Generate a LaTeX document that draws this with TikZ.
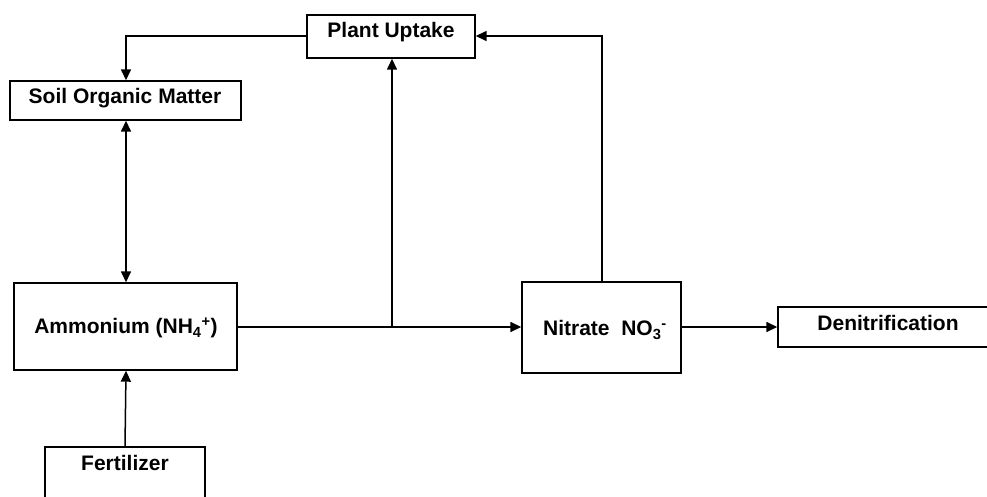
\documentclass[tikz,border=0pt]{standalone}
\usepackage{fontspec}
\setmainfont{Liberation Sans}
\usetikzlibrary{arrows.meta}
\begin{document}
\begin{tikzpicture}[x=1pt,y=-1pt,
  box/.style={draw,line width=1.4pt,inner sep=0pt},
  lbl/.style={inner sep=0pt,font=\fontsize{21}{25}\selectfont\bfseries,anchor=center},
  conn/.style={line width=1.5pt},
  arr/.style={conn,-{Triangle[length=11pt,width=10pt]}},
  darr/.style={conn,{Triangle[length=11pt,width=10pt]}-{Triangle[length=11pt,width=10pt]}}]
\useasboundingbox (0,0) rectangle (987,496);
\fill[white] (0,0) rectangle (987,496);
\begin{scope}
\clip (0,0) rectangle (987,496);
% boxes
\node[box,minimum width=168pt,minimum height=43pt] (pu) at (391,36.5) {};
\node[box,minimum width=231pt,minimum height=39pt] (som) at (125.5,100.5) {};
\node[box,minimum width=223pt,minimum height=87pt] (amm) at (125.5,326.5) {};
\node[box,minimum width=159pt,minimum height=91pt] (nit) at (601.5,327.5) {};
\node[box,minimum width=240pt,minimum height=40pt] (den) at (898,327) {};
\node[box,minimum width=160pt,minimum height=64pt] (fert) at (125,479) {};
% labels
\node[lbl] (tpu) at (391,32) {Plant Uptake};
\node[lbl] (tsom) at (125,98) {Soil Organic Matter};
\node[lbl] (tamm) at (126,328) {Ammonium (NH\textsubscript{4}\textsuperscript{+})};
\node[lbl] (tnit) at (605,330) {Nitrate\ \ NO\textsubscript{3}\textsuperscript{-}};
\node[lbl] (tden) at (888,323) {Denitrification};
\node[lbl] (tfert) at (125,463) {Fertilizer};
% coordinates
\coordinate (j) at (392,327);
\coordinate (c1) at (126,36);
\coordinate (c2) at (602,36);
% connectors
\draw[arr] (pu.west |- c1) -- (c1) -- (som.north -| c1);
\draw[darr] (som.south -| c1) -- (amm.north -| c1);
\draw[arr] (fert.north) -- (amm.south -| c1);
\draw[arr] (amm.east |- j) -- (nit.west |- j);
\draw[arr] (j) -- (pu.south -| j);
\draw[arr] (nit.north -| c2) -- (c2) -- (pu.east |- c2);
\draw[arr] (nit.east |- j) -- (den.west |- j);
\end{scope}
\end{tikzpicture}
\end{document}
